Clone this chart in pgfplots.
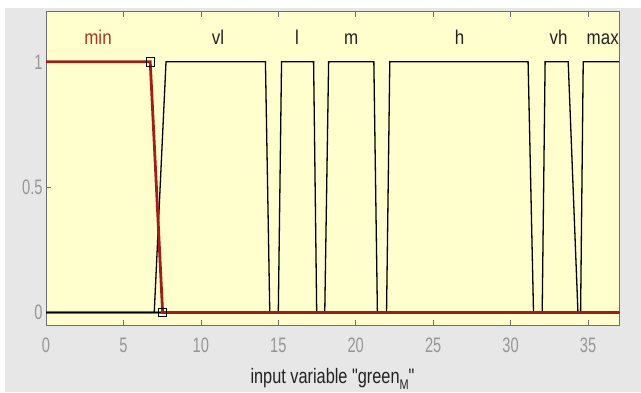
\documentclass[border=0pt]{standalone}
\usepackage{pgfplots}
\pgfplotsset{compat=1.18}
\usepackage{fontspec}
\setmainfont{Liberation Sans}
\newfontfamily\tickfont{Liberation Sans}[FakeStretch=0.70]
\newfontfamily\labfont{Liberation Sans}[FakeStretch=0.78]
\newfontfamily\mffont{Liberation Sans}[FakeStretch=0.85]
\definecolor{outergray}{RGB}{231,231,231}
\definecolor{bgyellow}{RGB}{255,255,206}
\definecolor{bordergray}{RGB}{110,110,110}
\definecolor{tickgray}{RGB}{150,150,150}
\definecolor{selred}{RGB}{165,28,22}
\definecolor{labred}{RGB}{180,50,35}
\definecolor{labdark}{RGB}{35,35,35}
\begin{document}
\begin{tikzpicture}
\fill[white] (0,0) rectangle (641bp,392bp);
\fill[outergray] (5bp,0) rectangle (641bp,384bp);
\begin{axis}[
  at={(46bp,66.9bp)}, anchor=south west,
  scale only axis, width=573bp, height=313.4bp,
  xmin=0, xmax=37, ymin=-0.05, ymax=1.2,
  xtick={0,5,...,35}, ytick={0,0.5,1},
  yticklabels={0,0.5,1},
  ytick pos=left,
  tick align=inside,
  major tick length=5bp,
  tick style={bordergray, line width=0.6bp},
  axis line style={draw=bordergray, line width=0.8bp},
  axis background/.style={fill=bgyellow},
  /pgf/number format/assume math mode=true,
  ticklabel style={font=\tickfont\fontsize{21}{21}\selectfont, text=tickgray},
  xticklabel style={yshift=-9bp},
  xlabel={input variable "green\raisebox{-0.55ex}{\fontsize{14}{14}\selectfont M}"},
  xlabel style={font=\labfont\fontsize{21}{21}\selectfont, text=labdark, yshift=-9bp},
  clip=false,
]
% black membership functions
\addplot[black, line width=1.3bp] coordinates {(0,0) (6.99,0) (7.75,1) (14.17,1) (14.45,0) (37,0)};
\addplot[black, line width=1.3bp] coordinates {(0,0) (15.0,0) (15.21,1) (17.28,1) (17.48,0) (37,0)};
\addplot[black, line width=1.3bp] coordinates {(0,0) (18.0,0) (18.25,1) (21.17,1) (21.4,0) (37,0)};
\addplot[black, line width=1.3bp] coordinates {(0,0) (21.99,0) (22.2,1) (31.13,1) (31.48,0) (37,0)};
\addplot[black, line width=1.3bp] coordinates {(0,0) (32.04,0) (32.23,1) (33.72,1) (34.35,0) (37,0)};
\addplot[black, line width=1.3bp] coordinates {(0,0) (34.52,0) (34.69,1) (37,1)};
% selected (red) membership function
\addplot[selred, line width=2.8bp] coordinates {(0,1) (6.73,1) (7.53,0) (37,0)};
\addplot[only marks, mark=square, mark size=4.2bp, mark options={black, line width=1bp}] coordinates {(6.73,1) (7.53,0)};
% labels
\node[anchor=base, font=\mffont\fontsize{20}{20}\selectfont, text=labred] at (axis cs:3.36,1.07) {min};
\node[anchor=base, font=\mffont\fontsize{20}{20}\selectfont, text=labdark] at (axis cs:11.1,1.07) {vl};
\node[anchor=base, font=\mffont\fontsize{20}{20}\selectfont, text=labdark] at (axis cs:16.2,1.07) {l};
\node[anchor=base, font=\mffont\fontsize{20}{20}\selectfont, text=labdark] at (axis cs:19.7,1.07) {m};
\node[anchor=base, font=\mffont\fontsize{20}{20}\selectfont, text=labdark] at (axis cs:26.7,1.07) {h};
\node[anchor=base, font=\mffont\fontsize{20}{20}\selectfont, text=labdark] at (axis cs:33.1,1.07) {vh};
\node[anchor=base, font=\mffont\fontsize{20}{20}\selectfont, text=labdark] at (axis cs:35.95,1.07) {max};
\end{axis}
\end{tikzpicture}
\end{document}
